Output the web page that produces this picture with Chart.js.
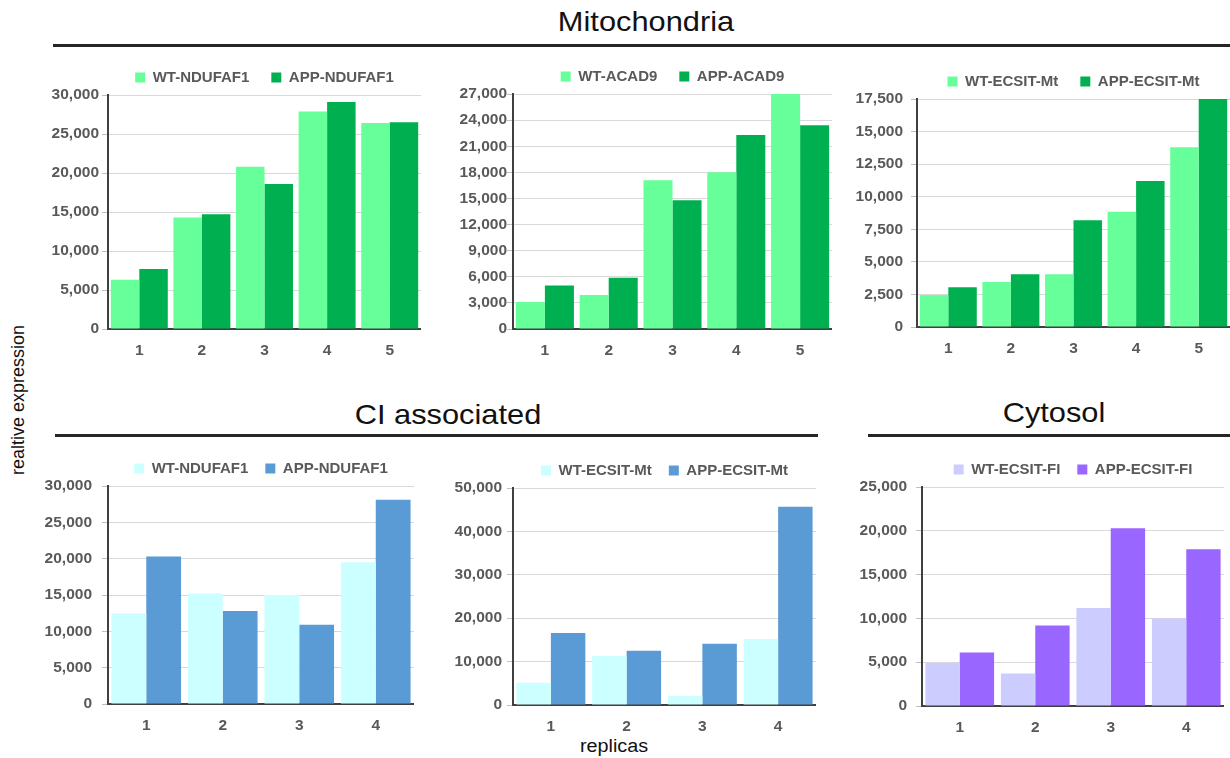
<!DOCTYPE html>
<html>
<head>
<meta charset="utf-8">
<script src="https://cdn.jsdelivr.net/npm/chart.js@4"></script>
<style>
  html, body { margin: 0; padding: 0; background: #fff; }
  body { position: relative; width: 1230px; height: 758px; overflow: hidden; font-family: "Liberation Sans", Arial, sans-serif; }
  canvas { position: absolute; }
  .head { position: absolute; font-size: 28px; line-height: 28px; color: #111; white-space: nowrap; transform: translateX(-50%) scaleX(1.1); }
  .rule { position: absolute; height: 3px; background: #262626; }
</style>
</head>
<body>
<div class="head" style="left:646px; top:8px;">Mitochondria</div>
<div class="rule" style="left:53px; width:1177px; top:44px;"></div>
<div class="head" style="left:448px; top:401px;">CI associated</div>
<div class="rule" style="left:55px; width:763px; top:434px;"></div>
<div class="head" style="left:1054px; top:399px;">Cytosol</div>
<div class="rule" style="left:868px; width:362px; top:434px;"></div>
<div style="position:absolute; left:-82px; top:390px; width:200px; height:20px; line-height:20px; text-align:center; font-size:18px; color:#111; transform:rotate(-90deg);">realtive expression</div>
<div style="position:absolute; left:564px; top:737px; width:100px; text-align:center; font-size:18px; line-height:18px; color:#111; transform:scaleX(1.1);">replicas</div>
<script>
// replicas
const mitoLabels = ['1', '2', '3', '4', '5'];
const ciLabels = ['1', '2', '3', '4'];

// Mitochondria
const wtNdufaf1Mito = [6300, 14300, 20800, 27900, 26400];
const appNdufaf1Mito = [7700, 14700, 18600, 29100, 26500];
const wtAcad9 = [3100, 3900, 17100, 18000, 27000];
const appAcad9 = [5000, 5900, 14800, 22300, 23400];
const wtEcsitMt = [2450, 3450, 4050, 8850, 13800];
const appEcsitMt = [3050, 4050, 8200, 11200, 17500];

// CI associated
const wtNdufaf1CI = [12500, 15200, 15000, 19500];
const appNdufaf1CI = [20300, 12800, 10900, 28100];
const wtEcsitCI = [5100, 11300, 2100, 15200];
const appEcsitCI = [16600, 12500, 14100, 45700];

// Cytosol
const wtEcsitFI = [4900, 3700, 11200, 10000];
const appEcsitFI = [6100, 9200, 20300, 17900];

const GREEN = ['#66ff99', '#00b050'];
const BLUE = ['#ccffff', '#5b9bd5'];
const PURPLE = ['#ccccff', '#9966ff'];

Chart.defaults.font.family = '"Liberation Sans", Arial, sans-serif';

const Y_W = 75;  // width reserved for y axis
const X_H = 40;  // height reserved for x axis

const panels = [
  { labels: mitoLabels, names: ['WT-NDUFAF1', 'APP-NDUFAF1'], wt: wtNdufaf1Mito, app: appNdufaf1Mito, colors: GREEN, max: 30000, step: 5000,
    axis: 108, right: 421, top: 95, bottom: 329, pad: 3, legPad: 22 },
  { labels: mitoLabels, names: ['WT-ACAD9', 'APP-ACAD9'], wt: wtAcad9, app: appAcad9, colors: GREEN, max: 27000, step: 3000,
    axis: 513, right: 832, top: 94.3, bottom: 329.3, pad: 0, legPad: 22 },
  { labels: mitoLabels, names: ['WT-ECSIT-Mt', 'APP-ECSIT-Mt'], wt: wtEcsitMt, app: appEcsitMt, colors: GREEN, max: 17500, step: 2500,
    axis: 917, right: 1229.5, top: 99, bottom: 326.7, pad: 8, legPad: 22 },
  { labels: ciLabels, names: ['WT-NDUFAF1', 'APP-NDUFAF1'], wt: wtNdufaf1CI, app: appNdufaf1CI, colors: BLUE, max: 30000, step: 5000,
    axis: 108, right: 414, top: 486, bottom: 704.3, pad: 10, legPad: 17 },
  { labels: ciLabels, names: ['WT-ECSIT-Mt', 'APP-ECSIT-Mt'], wt: wtEcsitCI, app: appEcsitCI, colors: BLUE, max: 50000, step: 10000,
    axis: 513, right: 816, top: 488.3, bottom: 705, pad: 5, legPad: 17 },
  { labels: ciLabels, names: ['WT-ECSIT-FI', 'APP-ECSIT-FI'], wt: wtEcsitFI, app: appEcsitFI, colors: PURPLE, max: 25000, step: 5000,
    axis: 922, right: 1224, top: 486.7, bottom: 705.3, pad: 9, legPad: 17 }
];

function make(p, legendH) {
  const canvas = document.createElement('canvas');
  const w = Math.round(Y_W + p.right - p.axis);
  const h = Math.round(legendH + p.bottom - p.top + X_H);
  canvas.width = w; canvas.height = h;
  canvas.style.width = w + 'px'; canvas.style.height = h + 'px';
  document.body.appendChild(canvas);
  const chart = new Chart(canvas, {
    type: 'bar',
    data: {
      labels: p.labels,
      datasets: [
        { label: p.names[0], data: p.wt, backgroundColor: p.colors[0], borderWidth: 0 },
        { label: p.names[1], data: p.app, backgroundColor: p.colors[1], borderWidth: 0 }
      ]
    },
    options: {
      responsive: false,
      animation: false,
      layout: { padding: 0 },
      datasets: { bar: { barPercentage: 1, categoryPercentage: 0.91 } },
      plugins: {
        tooltip: { enabled: false },
        legend: {
          position: 'top',
          fullSize: false,
          labels: { boxWidth: 10, boxHeight: 10, padding: p.legPad, color: '#595959', font: { size: 15, weight: 'bold' } }
        }
      },
      scales: {
        x: {
          grid: { display: true, drawOnChartArea: false, drawTicks: false },
          border: { color: '#404040', width: 2 },
          ticks: { color: '#595959', padding: 12, font: { size: 15.5, weight: 'bold' } },
          afterFit: s => { s.height = X_H; }
        },
        y: {
          min: 0, max: p.max,
          grid: { color: '#d9d9d9', tickLength: 6, tickColor: '#bfbfbf' },
          border: { color: '#404040', width: 2 },
          ticks: { stepSize: p.step, color: '#595959', padding: p.pad, font: { size: 15.5, weight: 'bold' } },
          afterFit: s => { s.width = Y_W; }
        }
      }
    }
  });
  return { canvas, chart };
}

panels.forEach(p => {
  let legendH = 44;
  let r = make(p, legendH);
  if (Math.abs(r.chart.chartArea.top - legendH) > 0.5) {
    legendH = r.chart.chartArea.top;
    r.chart.destroy();
    r.canvas.remove();
    r = make(p, legendH);
  }
  const a = r.chart.chartArea;
  r.canvas.style.left = (p.axis - a.left) + 'px';
  r.canvas.style.top = (p.top - a.top) + 'px';
});
</script>
</body>
</html>
